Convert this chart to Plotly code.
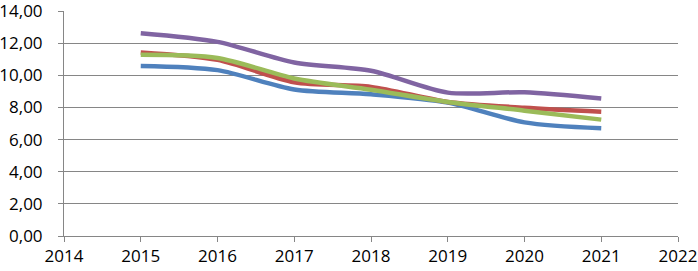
import plotly.graph_objects as go

years = [2015, 2016, 2017, 2018, 2019, 2020, 2021]
series_blue = [10.58, 10.32, 9.12, 8.82, 8.30, 7.07, 6.70]
series_red = [11.42, 10.96, 9.57, 9.28, 8.34, 7.98, 7.73]
series_green = [11.28, 11.08, 9.80, 9.10, 8.34, 7.80, 7.24]
series_purple = [12.62, 12.08, 10.80, 10.28, 8.92, 8.94, 8.55]

y_ticks = [0, 2, 4, 6, 8, 10, 12, 14]
y_tick_labels = ["0,00", "2,00", "4,00", "6,00", "8,00", "10,00", "12,00", "14,00"]
x_ticks = [2014, 2015, 2016, 2017, 2018, 2019, 2020, 2021, 2022]
x_tick_labels = [str(v) for v in x_ticks]

colors = ["#4F81BD", "#C0504D", "#9BBB59", "#8064A2"]
fig = go.Figure()
for vals, c in zip([series_blue, series_red, series_green, series_purple], colors):
    fig.add_trace(go.Scatter(x=years, y=vals, mode="lines",
                             line=dict(color=c, width=4.5, shape="spline", smoothing=0.8),
                             showlegend=False, cliponaxis=False))

font = dict(family="Open Sans, sans-serif", size=17, color="#000000")
fig.update_layout(
    width=698, height=271,
    margin=dict(l=64, r=20, t=11, b=35, autoexpand=False),
    paper_bgcolor="white", plot_bgcolor="white",
    font=font,
)
fig.update_xaxes(range=[2014, 2022], tickvals=x_ticks, ticktext=x_tick_labels,
                 showgrid=False, showline=True, linecolor="#868686", linewidth=1,
                 ticks="outside", ticklen=5, tickcolor="#868686", zeroline=False,
                 tickfont=font, automargin=False, ticklabeloverflow="allow",
                 ticklabelstandoff=0)
fig.update_yaxes(range=[0, 14], tickvals=y_ticks, ticktext=y_tick_labels,
                 showgrid=True, gridcolor="#868686", gridwidth=1,
                 showline=True, linecolor="#868686", linewidth=1,
                 ticks="outside", ticklen=5, tickcolor="#868686", zeroline=False,
                 tickfont=font, automargin=False, ticklabeloverflow="allow",
                 ticklabelstandoff=12)
fig.write_html("out.html", config={"displayModeBar": False},
               post_script="document.body.style.margin='0';document.body.style.overflow='hidden';")
